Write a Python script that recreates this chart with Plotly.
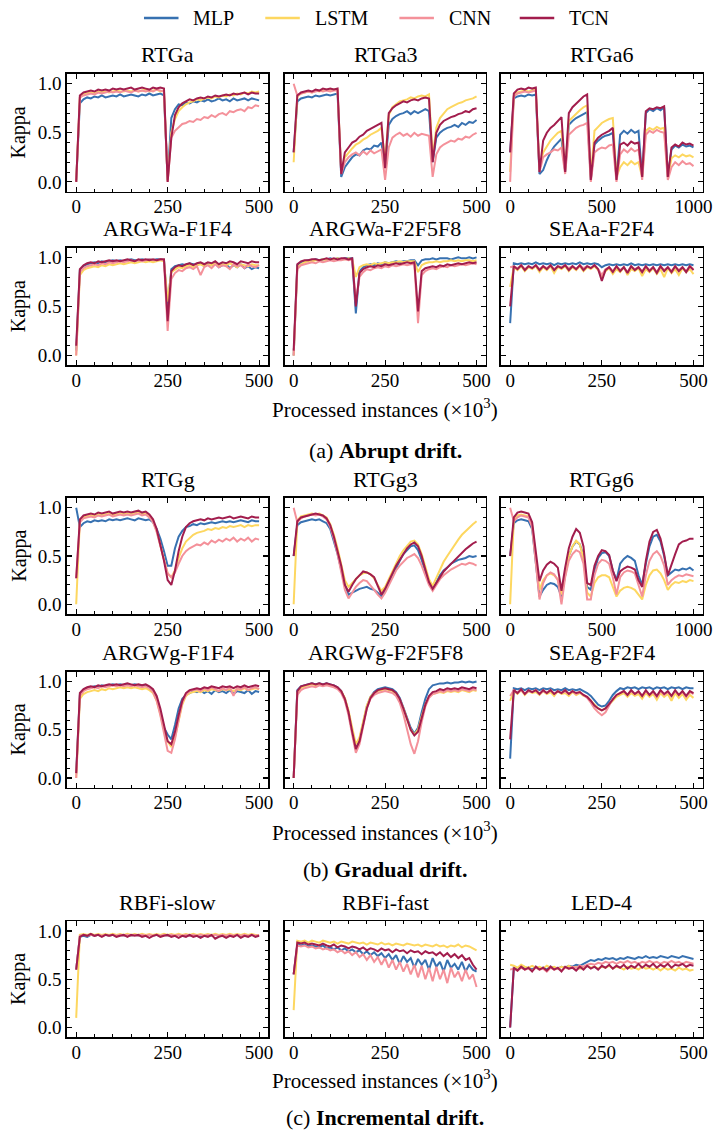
import plotly.graph_objects as go

W, H = 724, 1131
OFF = 0
FIG_W, FIG_H = W, H
FONT = "Liberation Serif, Tinos, Times New Roman, DejaVu Serif, serif"

MODELS = ["MLP", "LSTM", "CNN", "TCN"]
COLORS = ["#3771b1", "#fdd760", "#f4919a", "#a21d4d"]

# ---------------- (a) Abrupt drift ----------------
RTGA_MLP = [0.00, 0.80, 0.84, 0.86, 0.85, 0.87, 0.86, 0.88, 0.86, 0.87,
            0.88, 0.87, 0.89, 0.87, 0.88, 0.89, 0.88, 0.87, 0.89, 0.88,
            0.90, 0.88, 0.89, 0.90, 0.88, 0.02, 0.65, 0.74, 0.79, 0.78,
            0.81, 0.80, 0.82, 0.81, 0.83, 0.82, 0.84, 0.82, 0.83, 0.85,
            0.83, 0.84, 0.82, 0.85, 0.83, 0.84, 0.85, 0.83, 0.85, 0.84,
            0.83]
RTGA_LSTM = [0.00, 0.86, 0.89, 0.90, 0.91, 0.90, 0.92, 0.91, 0.92, 0.91,
             0.92, 0.93, 0.92, 0.92, 0.93, 0.92, 0.93, 0.92, 0.93, 0.94,
             0.92, 0.93, 0.94, 0.92, 0.93, 0.01, 0.50, 0.64, 0.72, 0.76,
             0.79, 0.81, 0.82, 0.84, 0.83, 0.85, 0.86, 0.85, 0.87, 0.86,
             0.88, 0.87, 0.89, 0.88, 0.90, 0.89, 0.91, 0.90, 0.92, 0.91,
             0.92]
RTGA_CNN = [0.00, 0.86, 0.88, 0.89, 0.90, 0.89, 0.91, 0.90, 0.91, 0.92,
            0.91, 0.92, 0.91, 0.93, 0.92, 0.91, 0.93, 0.92, 0.93, 0.92,
            0.93, 0.92, 0.94, 0.93, 0.92, 0.00, 0.45, 0.52, 0.56, 0.59,
            0.60, 0.62, 0.61, 0.64, 0.63, 0.66, 0.65, 0.68, 0.66, 0.69,
            0.70, 0.68, 0.72, 0.71, 0.73, 0.74, 0.72, 0.76, 0.75, 0.78,
            0.77]
RTGA_TCN = [0.00, 0.88, 0.91, 0.92, 0.93, 0.92, 0.94, 0.93, 0.94, 0.93,
            0.95, 0.94, 0.95, 0.94, 0.95, 0.96, 0.94, 0.95, 0.96, 0.95,
            0.94, 0.96, 0.95, 0.96, 0.95, 0.00, 0.45, 0.68, 0.76, 0.80,
            0.82, 0.84, 0.83, 0.85, 0.86, 0.85, 0.87, 0.86, 0.88, 0.87,
            0.88, 0.89, 0.88, 0.90, 0.89, 0.90, 0.91, 0.89, 0.91, 0.90,
            0.90]

RTGA3_MLP = [0.30, 0.82, 0.85, 0.86, 0.87, 0.86, 0.88, 0.87, 0.88, 0.89,
             0.88, 0.89, 0.90, 0.05, 0.15, 0.20, 0.25, 0.28, 0.27, 0.32,
             0.34, 0.33, 0.37, 0.36, 0.40, 0.15, 0.58, 0.64, 0.67, 0.69,
             0.70, 0.72, 0.69, 0.72, 0.70, 0.72, 0.74, 0.72, 0.20, 0.45,
             0.50, 0.53, 0.55, 0.56, 0.58, 0.56, 0.60, 0.58, 0.61, 0.60,
             0.63]
RTGA3_LSTM = [0.20, 0.87, 0.90, 0.91, 0.92, 0.91, 0.93, 0.92, 0.93, 0.94,
              0.93, 0.94, 0.94, 0.10, 0.25, 0.30, 0.34, 0.38, 0.40, 0.43,
              0.45, 0.48, 0.50, 0.52, 0.55, 0.20, 0.68, 0.76, 0.79, 0.82,
              0.83, 0.84, 0.86, 0.85, 0.87, 0.88, 0.87, 0.89, 0.25, 0.55,
              0.65, 0.70, 0.74, 0.76, 0.78, 0.80, 0.81, 0.83, 0.84, 0.85,
              0.87]
RTGA3_CNN = [1.00, 0.88, 0.90, 0.91, 0.92, 0.91, 0.92, 0.93, 0.92, 0.93,
             0.92, 0.93, 0.93, 0.08, 0.20, 0.25, 0.28, 0.30, 0.27, 0.31,
             0.28, 0.32, 0.29, 0.31, 0.33, 0.02, 0.35, 0.45, 0.48, 0.50,
             0.47, 0.49, 0.46, 0.50, 0.47, 0.49, 0.48, 0.47, 0.05, 0.28,
             0.35, 0.38, 0.40, 0.42, 0.41, 0.44, 0.43, 0.46, 0.45, 0.48,
             0.50]
RTGA3_TCN = [0.30, 0.88, 0.91, 0.92, 0.93, 0.92, 0.94, 0.93, 0.95, 0.94,
             0.95, 0.94, 0.95, 0.08, 0.30, 0.35, 0.40, 0.42, 0.46, 0.48,
             0.52, 0.54, 0.56, 0.58, 0.60, 0.14, 0.70, 0.75, 0.78, 0.80,
             0.82, 0.81, 0.83, 0.84, 0.83, 0.85, 0.86, 0.85, 0.20, 0.50,
             0.58, 0.62, 0.64, 0.66, 0.67, 0.69, 0.70, 0.72, 0.71, 0.74,
             0.75]

RTGA6_MLP = [0.30, 0.85, 0.87, 0.88, 0.87, 0.89, 0.88, 0.89, 0.08, 0.12,
             0.22, 0.30, 0.36, 0.40, 0.44, 0.10, 0.58, 0.62, 0.65, 0.67,
             0.69, 0.71, 0.02, 0.38, 0.42, 0.45, 0.47, 0.48, 0.50, 0.03,
             0.48, 0.52, 0.49, 0.53, 0.50, 0.52, 0.05, 0.70, 0.74, 0.72,
             0.75, 0.73, 0.76, 0.05, 0.33, 0.37, 0.35, 0.38, 0.36, 0.37,
             0.35]
RTGA6_LSTM = [0.10, 0.88, 0.91, 0.92, 0.93, 0.92, 0.93, 0.94, 0.12, 0.30,
              0.36, 0.42, 0.46, 0.50, 0.52, 0.12, 0.62, 0.66, 0.70, 0.73,
              0.76, 0.78, 0.05, 0.52, 0.56, 0.60, 0.62, 0.64, 0.65, 0.05,
              0.15, 0.20, 0.17, 0.21, 0.18, 0.20, 0.05, 0.52, 0.55, 0.53,
              0.56, 0.54, 0.55, 0.05, 0.24, 0.27, 0.25, 0.28, 0.26, 0.27,
              0.25]
RTGA6_CNN = [0.00, 0.87, 0.90, 0.91, 0.92, 0.91, 0.92, 0.93, 0.10, 0.25,
             0.28, 0.30, 0.33, 0.32, 0.35, 0.08, 0.48, 0.52, 0.55, 0.57,
             0.58, 0.60, 0.00, 0.30, 0.33, 0.35, 0.34, 0.37, 0.38, 0.00,
             0.28, 0.33, 0.30, 0.34, 0.31, 0.33, 0.02, 0.48, 0.52, 0.50,
             0.53, 0.51, 0.50, 0.02, 0.15, 0.20, 0.17, 0.21, 0.18, 0.19,
             0.16]
RTGA6_TCN = [0.30, 0.90, 0.94, 0.95, 0.94, 0.96, 0.95, 0.96, 0.10, 0.42,
             0.50, 0.55, 0.58, 0.62, 0.66, 0.10, 0.70, 0.76, 0.80, 0.84,
             0.87, 0.89, 0.02, 0.40, 0.45, 0.48, 0.50, 0.52, 0.55, 0.02,
             0.38, 0.40, 0.37, 0.41, 0.39, 0.40, 0.05, 0.72, 0.75, 0.74,
             0.76, 0.75, 0.77, 0.05, 0.35, 0.38, 0.36, 0.40, 0.38, 0.39,
             0.37]

ARGWA1_MLP = [0.05, 0.87, 0.91, 0.93, 0.94, 0.95, 0.94, 0.96, 0.95, 0.96,
              0.97, 0.96, 0.97, 0.96, 0.97, 0.98, 0.97, 0.97, 0.98, 0.97,
              0.98, 0.97, 0.98, 0.98, 0.97, 0.50, 0.88, 0.91, 0.92, 0.93,
              0.92, 0.94, 0.93, 0.92, 0.94, 0.91, 0.93, 0.92, 0.94, 0.90,
              0.92, 0.93, 0.89, 0.92, 0.90, 0.93, 0.89, 0.91, 0.88, 0.90,
              0.89]
ARGWA1_LSTM = [0.00, 0.82, 0.87, 0.89, 0.90, 0.91, 0.90, 0.92, 0.91, 0.93,
               0.92, 0.93, 0.94, 0.93, 0.94, 0.95, 0.94, 0.95, 0.96, 0.95,
               0.96, 0.95, 0.96, 0.97, 0.96, 0.55, 0.85, 0.88, 0.90, 0.89,
               0.91, 0.92, 0.90, 0.92, 0.93, 0.91, 0.93, 0.92, 0.94, 0.91,
               0.93, 0.92, 0.94, 0.92, 0.90, 0.93, 0.92, 0.91, 0.93, 0.92,
               0.92]
ARGWA1_CNN = [0.00, 0.85, 0.89, 0.91, 0.92, 0.93, 0.92, 0.94, 0.93, 0.95,
              0.94, 0.95, 0.96, 0.95, 0.96, 0.97, 0.96, 0.97, 0.96, 0.97,
              0.98, 0.97, 0.97, 0.98, 0.97, 0.25, 0.78, 0.84, 0.87, 0.86,
              0.89, 0.90, 0.88, 0.91, 0.82, 0.90, 0.92, 0.89, 0.93, 0.90,
              0.92, 0.91, 0.88, 0.93, 0.91, 0.92, 0.89, 0.93, 0.91, 0.90,
              0.92]
ARGWA1_TCN = [0.10, 0.88, 0.92, 0.94, 0.95, 0.94, 0.96, 0.95, 0.96, 0.97,
              0.96, 0.97, 0.96, 0.97, 0.98, 0.97, 0.96, 0.98, 0.97, 0.98,
              0.97, 0.98, 0.97, 0.98, 0.98, 0.35, 0.86, 0.90, 0.92, 0.91,
              0.93, 0.94, 0.92, 0.94, 0.95, 0.93, 0.95, 0.94, 0.96, 0.93,
              0.95, 0.94, 0.96, 0.95, 0.93, 0.96, 0.95, 0.94, 0.96, 0.95,
              0.95]

ARGWA2_MLP = [0.00, 0.92, 0.95, 0.96, 0.97, 0.97, 0.98, 0.97, 0.98, 0.98,
              0.99, 0.98, 0.99, 0.98, 0.99, 0.99, 0.99, 0.43, 0.86, 0.90,
              0.92, 0.93, 0.92, 0.94, 0.93, 0.95, 0.94, 0.95, 0.96, 0.95,
              0.96, 0.96, 0.97, 0.97, 0.92, 0.97, 0.98, 0.98, 0.99, 0.98,
              0.99, 0.99, 0.99, 0.98, 0.99, 1.00, 0.99, 0.99, 1.00, 0.99,
              1.00]
ARGWA2_LSTM = [0.00, 0.90, 0.93, 0.95, 0.96, 0.96, 0.97, 0.97, 0.98, 0.97,
               0.98, 0.98, 0.99, 0.98, 0.98, 0.99, 0.98, 0.80, 0.90, 0.92,
               0.93, 0.92, 0.94, 0.93, 0.94, 0.95, 0.94, 0.95, 0.95, 0.96,
               0.95, 0.96, 0.96, 0.96, 0.85, 0.92, 0.94, 0.95, 0.95, 0.96,
               0.95, 0.96, 0.96, 0.97, 0.96, 0.97, 0.96, 0.97, 0.97, 0.96,
               0.97]
ARGWA2_CNN = [0.00, 0.88, 0.92, 0.93, 0.94, 0.95, 0.94, 0.96, 0.95, 0.96,
              0.97, 0.96, 0.97, 0.97, 0.98, 0.97, 0.98, 0.55, 0.80, 0.85,
              0.88, 0.87, 0.89, 0.90, 0.89, 0.91, 0.90, 0.92, 0.91, 0.92,
              0.93, 0.92, 0.93, 0.93, 0.33, 0.82, 0.86, 0.88, 0.89, 0.88,
              0.90, 0.91, 0.90, 0.92, 0.91, 0.92, 0.93, 0.92, 0.93, 0.94,
              0.93]
ARGWA2_TCN = [0.05, 0.93, 0.96, 0.97, 0.97, 0.98, 0.98, 0.97, 0.98, 0.99,
              0.98, 0.99, 0.98, 0.99, 0.99, 0.98, 0.99, 0.50, 0.84, 0.88,
              0.90, 0.91, 0.90, 0.92, 0.91, 0.93, 0.92, 0.93, 0.94, 0.93,
              0.94, 0.95, 0.94, 0.95, 0.45, 0.86, 0.89, 0.90, 0.91, 0.90,
              0.92, 0.91, 0.93, 0.92, 0.93, 0.94, 0.93, 0.94, 0.95, 0.94,
              0.95]

SEAA_MLP = [0.33, 0.94, 0.93, 0.94, 0.93, 0.94, 0.93, 0.95, 0.93, 0.94,
            0.93, 0.94, 0.92, 0.94, 0.93, 0.94, 0.93, 0.94, 0.93, 0.95,
            0.93, 0.94, 0.93, 0.94, 0.93, 0.90, 0.92, 0.93, 0.92, 0.93,
            0.92, 0.93, 0.92, 0.94, 0.92, 0.93, 0.92, 0.93, 0.92, 0.93,
            0.92, 0.93, 0.92, 0.93, 0.92, 0.93, 0.92, 0.93, 0.92, 0.93,
            0.92]
SEAA_LSTM = [0.70, 0.90, 0.87, 0.91, 0.86, 0.90, 0.88, 0.91, 0.85, 0.90,
             0.87, 0.91, 0.84, 0.90, 0.88, 0.91, 0.86, 0.90, 0.87, 0.91,
             0.86, 0.90, 0.88, 0.91, 0.87, 0.80, 0.86, 0.89, 0.83, 0.88,
             0.85, 0.90, 0.82, 0.88, 0.86, 0.89, 0.81, 0.88, 0.85, 0.89,
             0.83, 0.88, 0.80, 0.89, 0.84, 0.88, 0.82, 0.89, 0.85, 0.88,
             0.83]
SEAA_CNN = [0.90, 0.91, 0.89, 0.92, 0.88, 0.91, 0.89, 0.92, 0.88, 0.91,
            0.89, 0.92, 0.88, 0.91, 0.90, 0.92, 0.89, 0.91, 0.88, 0.92,
            0.89, 0.91, 0.89, 0.92, 0.88, 0.82, 0.88, 0.90, 0.86, 0.91,
            0.87, 0.90, 0.85, 0.91, 0.88, 0.90, 0.86, 0.91, 0.87, 0.90,
            0.85, 0.91, 0.87, 0.90, 0.86, 0.91, 0.87, 0.90, 0.86, 0.91,
            0.88]
SEAA_TCN = [0.50, 0.91, 0.88, 0.92, 0.87, 0.91, 0.89, 0.92, 0.87, 0.91,
            0.88, 0.92, 0.87, 0.91, 0.89, 0.92, 0.87, 0.91, 0.88, 0.92,
            0.87, 0.91, 0.89, 0.92, 0.88, 0.76, 0.87, 0.90, 0.85, 0.91,
            0.86, 0.90, 0.84, 0.91, 0.87, 0.90, 0.85, 0.91, 0.86, 0.90,
            0.84, 0.91, 0.86, 0.90, 0.85, 0.91, 0.86, 0.90, 0.85, 0.91,
            0.87]

# ---------------- (b) Gradual drift ----------------
RTGG_MLP = [1.00, 0.80, 0.84, 0.86, 0.85, 0.87, 0.86, 0.87, 0.86, 0.88,
            0.87, 0.88, 0.87, 0.88, 0.89, 0.88, 0.87, 0.89, 0.88, 0.87,
            0.88, 0.85, 0.78, 0.68, 0.55, 0.40, 0.40, 0.58, 0.70, 0.76,
            0.80, 0.81, 0.83, 0.82, 0.84, 0.83, 0.84, 0.85, 0.84, 0.85,
            0.86, 0.85, 0.86, 0.85, 0.86, 0.87, 0.86, 0.85, 0.87, 0.86,
            0.86]
RTGG_LSTM = [0.00, 0.86, 0.90, 0.91, 0.92, 0.91, 0.93, 0.92, 0.93, 0.94,
             0.92, 0.93, 0.94, 0.93, 0.94, 0.93, 0.94, 0.95, 0.93, 0.94,
             0.91, 0.86, 0.76, 0.62, 0.46, 0.32, 0.28, 0.35, 0.48, 0.58,
             0.65, 0.69, 0.72, 0.74, 0.75, 0.76, 0.78, 0.77, 0.79, 0.78,
             0.80, 0.79, 0.81, 0.80, 0.81, 0.82, 0.80, 0.82, 0.81, 0.82,
             0.82]
RTGG_CNN = [0.27, 0.85, 0.89, 0.90, 0.91, 0.90, 0.92, 0.91, 0.92, 0.93,
            0.91, 0.92, 0.93, 0.92, 0.93, 0.92, 0.93, 0.94, 0.92, 0.93,
            0.90, 0.85, 0.75, 0.60, 0.45, 0.32, 0.28, 0.33, 0.42, 0.50,
            0.55, 0.58, 0.60, 0.62, 0.61, 0.64, 0.62, 0.66, 0.64, 0.67,
            0.65, 0.68, 0.66, 0.69, 0.65, 0.68, 0.66, 0.69, 0.65, 0.68,
            0.67]
RTGG_TCN = [0.27, 0.88, 0.92, 0.93, 0.94, 0.93, 0.95, 0.94, 0.95, 0.96,
            0.94, 0.95, 0.96, 0.95, 0.96, 0.95, 0.96, 0.97, 0.95, 0.96,
            0.93, 0.88, 0.78, 0.62, 0.45, 0.25, 0.20, 0.35, 0.55, 0.70,
            0.80, 0.84, 0.86, 0.87, 0.88, 0.87, 0.89, 0.88, 0.89, 0.90,
            0.89, 0.90, 0.91, 0.89, 0.90, 0.91, 0.90, 0.89, 0.91, 0.90,
            0.90]

RTGG3_MLP = [0.50, 0.82, 0.85, 0.86, 0.87, 0.88, 0.87, 0.88, 0.86, 0.84,
             0.78, 0.66, 0.52, 0.36, 0.20, 0.10, 0.12, 0.14, 0.16, 0.17,
             0.18, 0.16, 0.15, 0.12, 0.08, 0.14, 0.22, 0.30, 0.38, 0.45,
             0.52, 0.56, 0.60, 0.61, 0.56, 0.46, 0.34, 0.22, 0.15, 0.22,
             0.30, 0.35, 0.38, 0.42, 0.44, 0.46, 0.47, 0.48, 0.50, 0.49,
             0.50]
RTGG3_LSTM = [0.00, 0.87, 0.91, 0.92, 0.93, 0.94, 0.93, 0.94, 0.92, 0.90,
              0.83, 0.72, 0.58, 0.42, 0.25, 0.18, 0.22, 0.27, 0.30, 0.32,
              0.33, 0.31, 0.27, 0.20, 0.14, 0.18, 0.26, 0.35, 0.43, 0.50,
              0.56, 0.61, 0.65, 0.66, 0.62, 0.52, 0.38, 0.26, 0.19, 0.27,
              0.36, 0.44, 0.50, 0.56, 0.62, 0.67, 0.72, 0.76, 0.80, 0.83,
              0.86]
RTGG3_CNN = [1.00, 0.85, 0.89, 0.91, 0.92, 0.93, 0.92, 0.93, 0.91, 0.88,
             0.80, 0.68, 0.52, 0.35, 0.15, 0.06, 0.12, 0.18, 0.22, 0.25,
             0.24, 0.20, 0.15, 0.10, 0.06, 0.12, 0.20, 0.28, 0.35, 0.40,
             0.44, 0.48, 0.50, 0.52, 0.48, 0.40, 0.30, 0.20, 0.14, 0.20,
             0.26, 0.30, 0.33, 0.36, 0.38, 0.40, 0.42, 0.41, 0.43, 0.42,
             0.40]
RTGG3_TCN = [0.50, 0.86, 0.90, 0.91, 0.92, 0.93, 0.94, 0.93, 0.92, 0.89,
             0.82, 0.70, 0.55, 0.40, 0.20, 0.13, 0.20, 0.26, 0.30, 0.34,
             0.33, 0.31, 0.28, 0.18, 0.10, 0.16, 0.24, 0.32, 0.40, 0.46,
             0.52, 0.58, 0.62, 0.64, 0.60, 0.50, 0.36, 0.23, 0.16, 0.22,
             0.29, 0.34, 0.38, 0.42, 0.46, 0.50, 0.54, 0.57, 0.60, 0.63,
             0.65]

RTGG6_MLP = [0.50, 0.84, 0.87, 0.88, 0.87, 0.86, 0.78, 0.45, 0.08, 0.15,
             0.20, 0.22, 0.21, 0.18, 0.08, 0.30, 0.50, 0.60, 0.65, 0.62,
             0.50, 0.18, 0.15, 0.35, 0.48, 0.53, 0.54, 0.50, 0.35, 0.25,
             0.42, 0.47, 0.50, 0.48, 0.45, 0.30, 0.20, 0.42, 0.60, 0.70,
             0.72, 0.65, 0.50, 0.30, 0.33, 0.36, 0.35, 0.37, 0.36, 0.38,
             0.35]
RTGG6_LSTM = [0.00, 0.88, 0.92, 0.93, 0.92, 0.91, 0.82, 0.48, 0.15, 0.25,
              0.30, 0.32, 0.30, 0.26, 0.10, 0.30, 0.50, 0.60, 0.66, 0.62,
              0.48, 0.12, 0.08, 0.22, 0.28, 0.30, 0.30, 0.28, 0.18, 0.08,
              0.14, 0.17, 0.18, 0.17, 0.15, 0.10, 0.05, 0.20, 0.30, 0.35,
              0.36, 0.32, 0.25, 0.15, 0.20, 0.23, 0.22, 0.24, 0.23, 0.25,
              0.24]
RTGG6_CNN = [1.00, 0.86, 0.90, 0.92, 0.91, 0.90, 0.80, 0.45, 0.05, 0.22,
             0.30, 0.33, 0.31, 0.25, 0.00, 0.28, 0.45, 0.52, 0.56, 0.54,
             0.42, 0.05, 0.05, 0.30, 0.42, 0.46, 0.45, 0.42, 0.28, 0.10,
             0.28, 0.33, 0.35, 0.34, 0.32, 0.20, 0.08, 0.30, 0.45, 0.52,
             0.55, 0.50, 0.40, 0.20, 0.25, 0.28, 0.30, 0.29, 0.31, 0.30,
             0.29]
RTGG6_TCN = [0.50, 0.90, 0.95, 0.96, 0.95, 0.94, 0.85, 0.52, 0.24, 0.35,
             0.41, 0.44, 0.42, 0.38, 0.14, 0.38, 0.58, 0.70, 0.78, 0.74,
             0.60, 0.22, 0.20, 0.40, 0.50, 0.56, 0.55, 0.51, 0.35, 0.24,
             0.34, 0.37, 0.39, 0.38, 0.36, 0.25, 0.18, 0.45, 0.65, 0.75,
             0.77, 0.68, 0.52, 0.30, 0.42, 0.52, 0.62, 0.65, 0.66, 0.68,
             0.68]

ARGWG1_MLP = [0.05, 0.86, 0.91, 0.93, 0.94, 0.95, 0.94, 0.96, 0.95, 0.96,
              0.97, 0.96, 0.97, 0.96, 0.97, 0.96, 0.97, 0.96, 0.95, 0.96,
              0.94, 0.90, 0.82, 0.68, 0.52, 0.45, 0.40, 0.55, 0.72, 0.82,
              0.86, 0.88, 0.90, 0.89, 0.91, 0.88, 0.90, 0.87, 0.91, 0.89,
              0.90, 0.88, 0.91, 0.87, 0.90, 0.89, 0.88, 0.91, 0.87, 0.90,
              0.89]
ARGWG1_LSTM = [0.00, 0.82, 0.87, 0.89, 0.90, 0.91, 0.90, 0.92, 0.91, 0.93,
               0.92, 0.93, 0.94, 0.93, 0.94, 0.93, 0.94, 0.93, 0.92, 0.93,
               0.91, 0.88, 0.80, 0.66, 0.50, 0.38, 0.32, 0.42, 0.60, 0.76,
               0.85, 0.88, 0.89, 0.90, 0.89, 0.91, 0.90, 0.92, 0.91, 0.90,
               0.92, 0.91, 0.92, 0.90, 0.92, 0.91, 0.93, 0.91, 0.92, 0.93,
               0.92]
ARGWG1_CNN = [0.00, 0.85, 0.90, 0.92, 0.93, 0.94, 0.93, 0.95, 0.94, 0.95,
              0.96, 0.95, 0.96, 0.95, 0.96, 0.95, 0.96, 0.95, 0.94, 0.95,
              0.93, 0.89, 0.80, 0.65, 0.45, 0.28, 0.26, 0.40, 0.60, 0.78,
              0.86, 0.90, 0.91, 0.92, 0.90, 0.93, 0.91, 0.94, 0.92, 0.90,
              0.93, 0.91, 0.94, 0.85, 0.93, 0.92, 0.94, 0.91, 0.93, 0.94,
              0.92]
ARGWG1_TCN = [0.05, 0.88, 0.92, 0.94, 0.95, 0.94, 0.96, 0.95, 0.96, 0.97,
              0.96, 0.97, 0.96, 0.97, 0.98, 0.97, 0.96, 0.97, 0.96, 0.97,
              0.95, 0.92, 0.85, 0.72, 0.55, 0.38, 0.35, 0.48, 0.65, 0.80,
              0.88, 0.91, 0.92, 0.93, 0.92, 0.94, 0.93, 0.95, 0.94, 0.93,
              0.95, 0.94, 0.95, 0.93, 0.95, 0.94, 0.96, 0.94, 0.95, 0.96,
              0.95]

ARGWG2_MLP = [0.00, 0.91, 0.95, 0.96, 0.97, 0.98, 0.97, 0.98, 0.97, 0.98,
              0.97, 0.96, 0.94, 0.90, 0.82, 0.68, 0.48, 0.30, 0.40, 0.58,
              0.74, 0.84, 0.89, 0.92, 0.93, 0.94, 0.93, 0.92, 0.89, 0.83,
              0.73, 0.62, 0.52, 0.46, 0.52, 0.68, 0.82, 0.92, 0.96, 0.97,
              0.98, 0.98, 0.99, 0.98, 0.99, 0.99, 1.00, 0.99, 1.00, 0.99,
              1.00]
ARGWG2_LSTM = [0.00, 0.88, 0.93, 0.95, 0.96, 0.97, 0.96, 0.97, 0.96, 0.97,
               0.96, 0.95, 0.93, 0.90, 0.83, 0.70, 0.52, 0.35, 0.42, 0.60,
               0.75, 0.84, 0.88, 0.90, 0.91, 0.92, 0.91, 0.90, 0.87, 0.81,
               0.72, 0.60, 0.50, 0.45, 0.50, 0.64, 0.76, 0.84, 0.87, 0.88,
               0.89, 0.88, 0.90, 0.89, 0.90, 0.89, 0.91, 0.90, 0.89, 0.91,
               0.90]
ARGWG2_CNN = [0.00, 0.86, 0.91, 0.93, 0.94, 0.95, 0.94, 0.96, 0.95, 0.96,
              0.95, 0.94, 0.92, 0.88, 0.80, 0.65, 0.45, 0.26, 0.35, 0.55,
              0.72, 0.82, 0.86, 0.88, 0.89, 0.90, 0.89, 0.88, 0.85, 0.78,
              0.66, 0.50, 0.35, 0.25, 0.38, 0.58, 0.74, 0.83, 0.87, 0.88,
              0.90, 0.89, 0.91, 0.90, 0.91, 0.90, 0.92, 0.91, 0.90, 0.92,
              0.91]
ARGWG2_TCN = [0.00, 0.90, 0.95, 0.96, 0.97, 0.98, 0.97, 0.98, 0.97, 0.98,
              0.97, 0.96, 0.94, 0.90, 0.82, 0.68, 0.48, 0.30, 0.38, 0.55,
              0.72, 0.83, 0.88, 0.91, 0.92, 0.93, 0.92, 0.91, 0.88, 0.82,
              0.72, 0.60, 0.50, 0.44, 0.48, 0.62, 0.76, 0.85, 0.89, 0.90,
              0.92, 0.91, 0.93, 0.92, 0.93, 0.92, 0.94, 0.93, 0.92, 0.94,
              0.93]

SEAG_MLP = [0.20, 0.93, 0.92, 0.93, 0.91, 0.93, 0.92, 0.93, 0.91, 0.93,
            0.92, 0.93, 0.91, 0.92, 0.91, 0.93, 0.91, 0.92, 0.91, 0.92,
            0.90, 0.88, 0.85, 0.80, 0.76, 0.74, 0.75, 0.80, 0.86, 0.90,
            0.93, 0.92, 0.94, 0.93, 0.94, 0.92, 0.94, 0.93, 0.94, 0.92,
            0.94, 0.93, 0.94, 0.92, 0.94, 0.93, 0.94, 0.92, 0.94, 0.93,
            0.93]
SEAG_LSTM = [0.80, 0.90, 0.87, 0.91, 0.86, 0.90, 0.88, 0.89, 0.86, 0.90,
             0.87, 0.89, 0.85, 0.90, 0.87, 0.88, 0.85, 0.89, 0.86, 0.88,
             0.85, 0.84, 0.80, 0.76, 0.72, 0.70, 0.72, 0.76, 0.80, 0.84,
             0.86, 0.88, 0.84, 0.88, 0.85, 0.87, 0.82, 0.88, 0.84, 0.87,
             0.81, 0.88, 0.84, 0.87, 0.80, 0.88, 0.83, 0.87, 0.81, 0.86,
             0.83]
SEAG_CNN = [0.85, 0.91, 0.88, 0.91, 0.87, 0.90, 0.89, 0.91, 0.87, 0.90,
            0.88, 0.91, 0.87, 0.90, 0.88, 0.90, 0.87, 0.90, 0.87, 0.89,
            0.86, 0.83, 0.78, 0.72, 0.68, 0.65, 0.68, 0.75, 0.82, 0.86,
            0.88, 0.90, 0.86, 0.90, 0.87, 0.89, 0.85, 0.90, 0.86, 0.89,
            0.84, 0.90, 0.86, 0.89, 0.85, 0.90, 0.86, 0.89, 0.84, 0.89,
            0.87]
SEAG_TCN = [0.40, 0.91, 0.88, 0.92, 0.87, 0.91, 0.89, 0.91, 0.87, 0.91,
            0.88, 0.91, 0.87, 0.90, 0.88, 0.91, 0.87, 0.90, 0.88, 0.89,
            0.86, 0.84, 0.80, 0.75, 0.72, 0.70, 0.72, 0.77, 0.82, 0.86,
            0.88, 0.90, 0.86, 0.91, 0.87, 0.90, 0.85, 0.91, 0.86, 0.90,
            0.85, 0.91, 0.87, 0.90, 0.85, 0.91, 0.86, 0.90, 0.85, 0.90,
            0.88]

# ---------------- (c) Incremental drift ----------------
RBFS_MLP = [0.60, 0.94, 0.95, 0.94, 0.96, 0.95, 0.96, 0.95, 0.96, 0.95,
            0.96, 0.95, 0.96, 0.95, 0.96, 0.95, 0.96, 0.95, 0.96, 0.95,
            0.96, 0.95, 0.96, 0.95, 0.96, 0.95, 0.96, 0.95, 0.96, 0.95,
            0.96, 0.95, 0.96, 0.95, 0.94, 0.95, 0.96, 0.95, 0.96, 0.95,
            0.96, 0.95, 0.96, 0.95, 0.96, 0.95, 0.96, 0.95, 0.96, 0.95,
            0.95]
RBFS_LSTM = [0.10, 0.96, 0.97, 0.96, 0.97, 0.96, 0.97, 0.96, 0.97, 0.96,
             0.97, 0.96, 0.97, 0.96, 0.97, 0.96, 0.97, 0.96, 0.97, 0.96,
             0.97, 0.96, 0.97, 0.96, 0.97, 0.96, 0.97, 0.96, 0.97, 0.96,
             0.97, 0.96, 0.97, 0.96, 0.97, 0.96, 0.97, 0.96, 0.97, 0.96,
             0.97, 0.96, 0.97, 0.96, 0.97, 0.96, 0.97, 0.96, 0.97, 0.96,
             0.96]
RBFS_CNN = [0.60, 0.95, 0.96, 0.95, 0.96, 0.95, 0.96, 0.95, 0.96, 0.95,
            0.96, 0.95, 0.96, 0.95, 0.96, 0.95, 0.96, 0.95, 0.96, 0.95,
            0.96, 0.95, 0.96, 0.95, 0.96, 0.95, 0.96, 0.95, 0.96, 0.95,
            0.96, 0.95, 0.96, 0.95, 0.96, 0.95, 0.96, 0.95, 0.96, 0.95,
            0.96, 0.95, 0.96, 0.95, 0.96, 0.95, 0.96, 0.95, 0.96, 0.95,
            0.96]
RBFS_TCN = [0.60, 0.94, 0.96, 0.95, 0.97, 0.95, 0.96, 0.94, 0.96, 0.95,
            0.96, 0.94, 0.95, 0.96, 0.94, 0.96, 0.95, 0.96, 0.94, 0.95,
            0.93, 0.95, 0.96, 0.94, 0.95, 0.96, 0.94, 0.95, 0.93, 0.95,
            0.94, 0.96, 0.94, 0.95, 0.93, 0.95, 0.94, 0.96, 0.92, 0.94,
            0.95, 0.93, 0.95, 0.94, 0.96, 0.93, 0.95, 0.94, 0.96, 0.94,
            0.95]

RBFF_MLP = [0.55, 0.86, 0.85, 0.86, 0.84, 0.85, 0.84, 0.83, 0.85, 0.82,
            0.83, 0.81, 0.83, 0.80, 0.82, 0.79, 0.81, 0.78, 0.80, 0.76,
            0.79, 0.75, 0.78, 0.74, 0.77, 0.72, 0.76, 0.70, 0.75, 0.66,
            0.74, 0.68, 0.72, 0.62, 0.71, 0.65, 0.70, 0.60, 0.72, 0.63,
            0.68, 0.58, 0.70, 0.62, 0.66, 0.60, 0.68, 0.58, 0.65, 0.60,
            0.58]
RBFF_LSTM = [0.18, 0.90, 0.89, 0.90, 0.88, 0.90, 0.89, 0.88, 0.90, 0.89,
             0.88, 0.89, 0.87, 0.89, 0.88, 0.87, 0.89, 0.88, 0.87, 0.88,
             0.86, 0.88, 0.87, 0.86, 0.88, 0.86, 0.87, 0.85, 0.87, 0.86,
             0.85, 0.87, 0.86, 0.85, 0.86, 0.84, 0.86, 0.85, 0.84, 0.86,
             0.84, 0.85, 0.83, 0.85, 0.84, 0.86, 0.83, 0.85, 0.84, 0.82,
             0.80]
RBFF_CNN = [0.55, 0.85, 0.84, 0.85, 0.83, 0.84, 0.82, 0.83, 0.81, 0.82,
            0.80, 0.81, 0.78, 0.80, 0.77, 0.79, 0.75, 0.78, 0.73, 0.76,
            0.70, 0.75, 0.68, 0.73, 0.65, 0.72, 0.62, 0.70, 0.60, 0.68,
            0.58, 0.66, 0.55, 0.65, 0.52, 0.64, 0.50, 0.62, 0.48, 0.63,
            0.50, 0.60, 0.46, 0.62, 0.52, 0.58, 0.48, 0.60, 0.50, 0.55,
            0.42]
RBFF_TCN = [0.55, 0.88, 0.87, 0.88, 0.86, 0.87, 0.86, 0.85, 0.87, 0.85,
            0.84, 0.86, 0.83, 0.85, 0.84, 0.82, 0.84, 0.83, 0.81, 0.83,
            0.80, 0.82, 0.81, 0.79, 0.82, 0.80, 0.81, 0.78, 0.81, 0.79,
            0.80, 0.77, 0.80, 0.78, 0.79, 0.76, 0.79, 0.77, 0.78, 0.75,
            0.78, 0.74, 0.77, 0.73, 0.76, 0.72, 0.75, 0.70, 0.72, 0.65,
            0.60]

LED4_MLP = [0.00, 0.62, 0.60, 0.63, 0.61, 0.62, 0.60, 0.63, 0.61, 0.62,
            0.60, 0.63, 0.62, 0.61, 0.63, 0.62, 0.64, 0.63, 0.65, 0.64,
            0.66, 0.68, 0.70, 0.69, 0.71, 0.70, 0.72, 0.71, 0.72, 0.70,
            0.72, 0.71, 0.73, 0.72, 0.71, 0.73, 0.72, 0.74, 0.72, 0.73,
            0.72, 0.74, 0.73, 0.72, 0.74, 0.73, 0.72, 0.74, 0.73, 0.72,
            0.71]
LED4_LSTM = [0.65, 0.64, 0.62, 0.65, 0.63, 0.62, 0.64, 0.62, 0.63, 0.61,
             0.64, 0.62, 0.63, 0.61, 0.63, 0.62, 0.64, 0.62, 0.63, 0.61,
             0.62, 0.64, 0.62, 0.63, 0.61, 0.63, 0.62, 0.64, 0.61, 0.63,
             0.62, 0.60, 0.63, 0.61, 0.62, 0.60, 0.63, 0.61, 0.62, 0.60,
             0.62, 0.59, 0.62, 0.60, 0.61, 0.59, 0.62, 0.60, 0.61, 0.59,
             0.60]
LED4_CNN = [0.60, 0.61, 0.59, 0.62, 0.60, 0.61, 0.59, 0.62, 0.60, 0.61,
            0.58, 0.62, 0.60, 0.61, 0.59, 0.62, 0.61, 0.63, 0.62, 0.64,
            0.63, 0.65, 0.66, 0.65, 0.67, 0.66, 0.68, 0.67, 0.68, 0.66,
            0.68, 0.67, 0.69, 0.67, 0.68, 0.66, 0.68, 0.67, 0.69, 0.67,
            0.68, 0.66, 0.68, 0.67, 0.69, 0.67, 0.68, 0.66, 0.68, 0.67,
            0.66]
LED4_TCN = [0.00, 0.62, 0.59, 0.63, 0.60, 0.62, 0.58, 0.63, 0.60, 0.62,
            0.59, 0.63, 0.60, 0.62, 0.58, 0.63, 0.61, 0.62, 0.59, 0.63,
            0.60, 0.64, 0.61, 0.63, 0.60, 0.64, 0.62, 0.65, 0.61, 0.64,
            0.62, 0.65, 0.61, 0.64, 0.62, 0.66, 0.62, 0.65, 0.63, 0.66,
            0.62, 0.65, 0.63, 0.66, 0.62, 0.65, 0.64, 0.66, 0.63, 0.65,
            0.64]

# (title, x-step in 10^3 instances, series in MODELS order)
PANELS = [
    ("RTGa", 10, [RTGA_MLP, RTGA_LSTM, RTGA_CNN, RTGA_TCN]),
    ("RTGa3", 10, [RTGA3_MLP, RTGA3_LSTM, RTGA3_CNN, RTGA3_TCN]),
    ("RTGa6", 20, [RTGA6_MLP, RTGA6_LSTM, RTGA6_CNN, RTGA6_TCN]),
    ("ARGWa-F1F4", 10, [ARGWA1_MLP, ARGWA1_LSTM, ARGWA1_CNN, ARGWA1_TCN]),
    ("ARGWa-F2F5F8", 10, [ARGWA2_MLP, ARGWA2_LSTM, ARGWA2_CNN, ARGWA2_TCN]),
    ("SEAa-F2F4", 10, [SEAA_MLP, SEAA_LSTM, SEAA_CNN, SEAA_TCN]),
    ("RTGg", 10, [RTGG_MLP, RTGG_LSTM, RTGG_CNN, RTGG_TCN]),
    ("RTGg3", 10, [RTGG3_MLP, RTGG3_LSTM, RTGG3_CNN, RTGG3_TCN]),
    ("RTGg6", 20, [RTGG6_MLP, RTGG6_LSTM, RTGG6_CNN, RTGG6_TCN]),
    ("ARGWg-F1F4", 10, [ARGWG1_MLP, ARGWG1_LSTM, ARGWG1_CNN, ARGWG1_TCN]),
    ("ARGWg-F2F5F8", 10, [ARGWG2_MLP, ARGWG2_LSTM, ARGWG2_CNN, ARGWG2_TCN]),
    ("SEAg-F2F4", 10, [SEAG_MLP, SEAG_LSTM, SEAG_CNN, SEAG_TCN]),
    ("RBFi-slow", 10, [RBFS_MLP, RBFS_LSTM, RBFS_CNN, RBFS_TCN]),
    ("RBFi-fast", 10, [RBFF_MLP, RBFF_LSTM, RBFF_CNN, RBFF_TCN]),
    ("LED-4", 10, [LED4_MLP, LED4_LSTM, LED4_CNN, LED4_TCN]),
]

SECTION_CAPTIONS = ["(a) <b>Abrupt drift.</b>", "(b) <b>Gradual drift.</b>",
                    "(c) <b>Incremental drift.</b>"]
XLABEL = "Processed instances (×10<sup>3</sup>)"
YLABEL = "Kappa"

bad = [(t, i, len(s)) for t, _, ser in PANELS for i, s in enumerate(ser) if len(s) != 51]
if bad:
    raise ValueError(f"length mismatch: {bad}")

# ---------------- layout geometry (screen pixels) ----------------
COLS_PX = [(68, 272), (288.5, 492.5), (508, 712.5)]
ROWS_PX = [(73, 191), (247, 365), (498, 614), (672, 788), (922, 1038)]
XLABEL_Y = [408, 832, 1080]
CAPTION_Y = [450, 870, 1118]
LEGEND_Y = 17
LEGEND_LINE_X = [146, 269, 405, 527]
LEGEND_LINE_LEN = 35
LEGEND_TEXT_GAP = 13


def px_x(p):
    return (p - OFF) / FIG_W


def px_y(p):
    return 1 - (p - OFF) / FIG_H


fig = go.Figure()
layout = {}
annotations = []
shapes = []
tick_font = dict(family=FONT, size=19, color="black")

for k, (title, step, series) in enumerate(PANELS):
    r, c = divmod(k, 3)
    xs = [i * step for i in range(51)]
    xmax = xs[-1]
    sfx = "" if k == 0 else str(k + 1)
    for m, (name, col, ys) in enumerate(zip(MODELS, COLORS, series)):
        fig.add_trace(go.Scatter(
            x=xs, y=ys, mode="lines", name=name, showlegend=False,
            line=dict(color=col, width=2.0),
            xaxis="x" + sfx, yaxis="y" + sfx, hoverinfo="skip"))
    x0, x1 = COLS_PX[c]
    yt, yb = ROWS_PX[r]
    layout["xaxis" + sfx] = dict(
        domain=[px_x(x0), px_x(x1)], anchor="y" + sfx,
        range=[-0.05 * xmax, 1.05 * xmax],
        tickvals=[0, xmax / 2, xmax], ticktext=[str(int(v)) for v in (0, xmax / 2, xmax)],
        ticks="inside", ticklen=5, tickwidth=1.2, tickcolor="black",
        ticklabelstandoff=-3,
        minor=dict(dtick=xmax / 10, tick0=0, ticks="inside", ticklen=3,
                   tickwidth=1, tickcolor="black", showgrid=False),
        showline=True, linecolor="black", linewidth=1.8, mirror="allticks",
        showgrid=False, zeroline=False, tickfont=tick_font, fixedrange=True)
    layout["yaxis" + sfx] = dict(
        domain=[px_y(yb), px_y(yt)], anchor="x" + sfx,
        range=[-0.1, 1.1], tickvals=[0, 0.5, 1.0], ticktext=["0.0", "0.5", "1.0"],
        showticklabels=(c == 0),
        ticks="inside", ticklen=5, tickwidth=1.2, tickcolor="black",
        minor=dict(dtick=0.1, tick0=0, ticks="inside", ticklen=3,
                   tickwidth=1, tickcolor="black", showgrid=False),
        showline=True, linecolor="black", linewidth=1.8, mirror="allticks",
        showgrid=False, zeroline=False, tickfont=tick_font, fixedrange=True)
    annotations.append(dict(
        text=title, x=px_x((x0 + x1) / 2), y=px_y(yt - 19), xref="paper", yref="paper",
        xanchor="center", yanchor="middle", showarrow=False,
        font=dict(family=FONT, size=22, color="black")))
    if c == 0:
        annotations.append(dict(
            text=YLABEL, x=px_x(19), y=px_y((yt + yb) / 2), xref="paper", yref="paper",
            xanchor="center", yanchor="middle", textangle=-90, showarrow=False,
            font=dict(family=FONT, size=20, color="black")))

for s in range(3):
    cx = (COLS_PX[1][0] + COLS_PX[1][1]) / 2
    annotations.append(dict(
        text=XLABEL, x=px_x(cx), y=px_y(XLABEL_Y[s]), xref="paper", yref="paper",
        xanchor="center", yanchor="middle", showarrow=False,
        font=dict(family=FONT, size=21, color="black")))
    annotations.append(dict(
        text=SECTION_CAPTIONS[s], x=px_x(cx), y=px_y(CAPTION_Y[s]), xref="paper", yref="paper",
        xanchor="center", yanchor="middle", showarrow=False,
        font=dict(family=FONT, size=22, color="black")))

# legend: line sample + label for every model
for name, col, lx in zip(MODELS, COLORS, LEGEND_LINE_X):
    shapes.append(dict(type="line", xref="paper", yref="paper",
                       x0=px_x(lx), x1=px_x(lx + LEGEND_LINE_LEN),
                       y0=px_y(LEGEND_Y), y1=px_y(LEGEND_Y),
                       line=dict(color=col, width=2.6)))
    annotations.append(dict(
        text=name, x=px_x(lx + LEGEND_LINE_LEN + LEGEND_TEXT_GAP), y=px_y(LEGEND_Y),
        xref="paper", yref="paper", xanchor="left", yanchor="middle", showarrow=False,
        font=dict(family=FONT, size=20, color="black")))

fig.update_layout(
    width=FIG_W, height=FIG_H, margin=dict(l=0, r=0, t=0, b=0),
    paper_bgcolor="white", plot_bgcolor="white", showlegend=False,
    font=dict(family=FONT, color="black"),
    annotations=annotations, shapes=shapes,
    **layout)

fig.write_html("out.html",
               config={"displayModeBar": False, "staticPlot": True},
               post_script="document.body.style.margin='0px';"
                           "document.body.style.overflow='hidden';")
